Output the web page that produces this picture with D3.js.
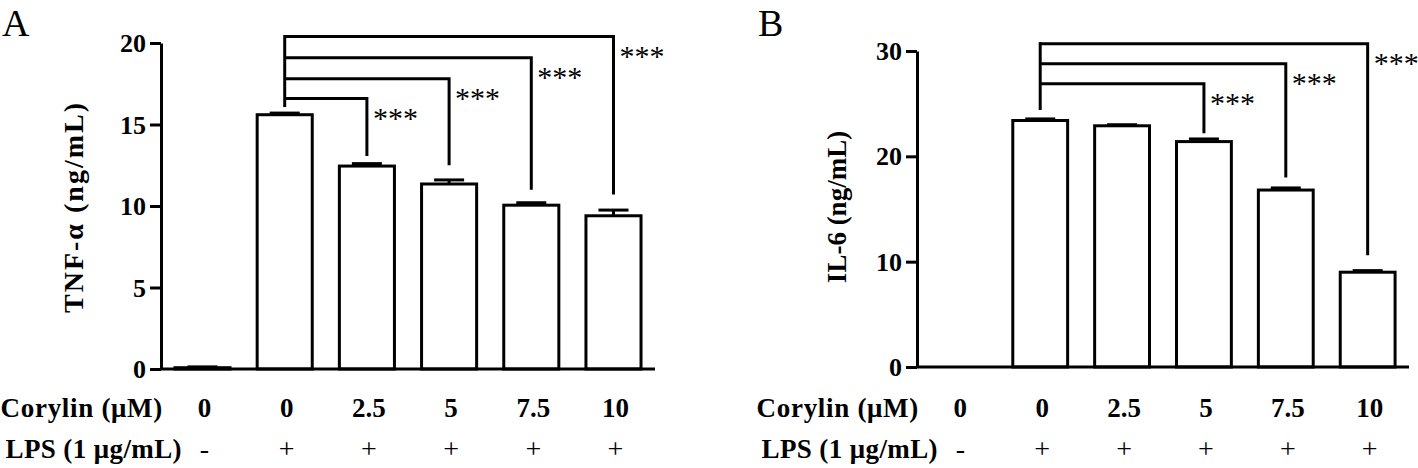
<!DOCTYPE html>
<html>
<head>
<meta charset="utf-8">
<script src="https://cdn.jsdelivr.net/npm/d3@7"></script>
<style>
  html, body { margin: 0; padding: 0; background: #fff; }
  svg { display: block; }
  text { font-family: "Liberation Serif", "Times New Roman", serif; fill: #000; }
</style>
</head>
<body>
<svg id="chart" width="1418" height="468"></svg>
<script>
// ---------- data ----------
const categories = ["c1", "c2", "c3", "c4", "c5", "c6"];
const corylinLabels = ["0", "0", "2.5", "5", "7.5", "10"];
const lpsLabels = ["-", "+", "+", "+", "+", "+"];

const tnfValues = [0.08, 15.6, 12.45, 11.35, 10.05, 9.4];
const tnfErrors = [0.05, 0.1, 0.15, 0.25, 0.15, 0.35];
const tnfTicks = [0, 5, 10, 15, 20];
// significance brackets: target bar index, bracket height, drop end (data units)
const tnfBracketTargets = [2, 3, 4, 5];
const tnfBracketLevels = [16.6, 17.8, 19.1, 20.4];
const tnfBracketDrops = [13.07, 12.5, 11.0, 10.7];
const tnfBracketBase = 16.07;

const il6Values = [0, 23.4, 22.9, 21.4, 16.8, 9.0];
const il6Errors = [0, 0.15, 0.1, 0.25, 0.2, 0.15];
const il6Ticks = [0, 10, 20, 30];
const il6BracketTargets = [3, 4, 5];
const il6BracketLevels = [26.9, 28.8, 30.7];
const il6BracketDrops = [22.2, 18.0, 10.6];
const il6BracketBase = 24.4;

const sigLabel = "***";

// ---------- drawing ----------
const svg = d3.select("#chart");
svg.append("rect").attr("width", 1418).attr("height", 468).attr("fill", "#fff");

function panel(cfg) {
  const g = svg.append("g");
  const x = d3.scaleBand().domain(categories).range([cfg.x0, cfg.x1])
    .paddingInner(0.33).paddingOuter(0.17);
  const y = d3.scaleLinear().domain([0, cfg.ymax]).range([cfg.y0, cfg.y1]);

  // panel letter
  g.append("text").attr("x", cfg.letterX).attr("y", 36)
    .attr("font-size", 38).text(cfg.letter);

  // bars
  g.selectAll("rect.bar").data(cfg.values).join("rect")
    .attr("class", "bar")
    .attr("x", (d, i) => x(categories[i]))
    .attr("y", d => y(d))
    .attr("width", x.bandwidth())
    .attr("height", d => y(0) - y(d))
    .attr("fill", "#fff").attr("stroke", "#000").attr("stroke-width", 3);

  // error bars (upper only)
  const eb = g.append("g").attr("stroke", "#000").attr("stroke-width", 3);
  cfg.values.forEach((v, i) => {
    const cx = x(categories[i]) + x.bandwidth() / 2;
    const e = cfg.errors[i];
    if (v <= 0) return;
    eb.append("line").attr("x1", cx).attr("x2", cx).attr("y1", y(v)).attr("y2", y(v + e));
    eb.append("line").attr("x1", cx - 15).attr("x2", cx + 15).attr("y1", y(v + e)).attr("y2", y(v + e));
  });

  // x axis
  const xa = g.append("g").attr("transform", `translate(0,${cfg.y0})`)
    .call(d3.axisBottom(x).tickSize(0).tickFormat(""));
  xa.select(".domain").attr("stroke-width", 3).attr("d", `M${cfg.x0},0H${cfg.x1}`);

  // y axis
  const ya = g.append("g").attr("transform", `translate(${cfg.x0},0)`)
    .call(d3.axisLeft(y).tickValues(cfg.ticks).tickSize(11).tickSizeOuter(0).tickPadding(4));
  ya.select(".domain").attr("stroke-width", 3);
  ya.selectAll(".tick line").attr("stroke-width", 3);
  ya.selectAll(".tick text")
    .attr("font-family", "Liberation Serif, Times New Roman, serif")
    .attr("font-size", 26).attr("font-weight", "bold").attr("dy", "0.33em");

  // y axis title
  g.append("text")
    .attr("transform", `translate(${cfg.titleX},${cfg.titleY}) rotate(-90)`)
    .attr("text-anchor", "middle").attr("font-size", cfg.titleSize).attr("font-weight", "bold")
    .attr("letter-spacing", cfg.titleSpacing)
    .text(cfg.title);

  // brackets
  const bg = g.append("g").attr("stroke", "#000").attr("stroke-width", 3).attr("fill", "none");
  const cx0 = x(categories[1]) + x.bandwidth() / 2;
  const topLevel = d3.max(cfg.bLevels);
  bg.append("line").attr("x1", cx0).attr("x2", cx0)
    .attr("y1", y(cfg.bBase)).attr("y2", y(topLevel) - 1.5);
  cfg.bTargets.forEach((t, k) => {
    const cx = x(categories[t]) + x.bandwidth() / 2;
    const ly = y(cfg.bLevels[k]);
    bg.append("path").attr("d", `M${cx0},${ly}H${cx}V${y(cfg.bDrops[k])}`);
    g.append("text").attr("x", cx + 6).attr("y", ly + 29.5)
      .attr("font-family", "Liberation Sans, Arial, sans-serif")
      .attr("font-size", 30).text(sigLabel);
  });

  // category rows
  g.append("text").attr("x", cfg.x0 + 2).attr("y", 417).attr("text-anchor", "end")
    .attr("font-size", 27).attr("font-weight", "bold").attr("letter-spacing", 0.7)
    .text("Corylin (μM)");
  g.append("text").attr("x", cfg.x0 + 21).attr("y", 458).attr("text-anchor", "end")
    .attr("font-size", 27).attr("font-weight", "bold").attr("letter-spacing", 0.4)
    .text("LPS (1 μg/mL)");
  g.selectAll("text.cor").data(corylinLabels).join("text").attr("class", "cor")
    .attr("x", (d, i) => x(categories[i]) + x.bandwidth() / 2 + 2)
    .attr("y", 417).attr("text-anchor", "middle")
    .attr("font-size", 27).attr("font-weight", "bold").text(d => d);
  g.selectAll("text.lps").data(lpsLabels).join("text").attr("class", "lps")
    .attr("x", (d, i) => x(categories[i]) + x.bandwidth() / 2 + 2)
    .attr("y", 458).attr("text-anchor", "middle")
    .attr("font-size", 28).text(d => d);
}

panel({
  letter: "A", letterX: 2, x0: 161, x1: 655, y0: 369, y1: 43, ymax: 20,
  values: tnfValues, errors: tnfErrors, ticks: tnfTicks,
  title: "TNF-α (ng/mL)", titleX: 83, titleY: 207, titleSize: 28, titleSpacing: 2,
  bTargets: tnfBracketTargets, bLevels: tnfBracketLevels, bDrops: tnfBracketDrops, bBase: tnfBracketBase
});
panel({
  letter: "B", letterX: 758, x0: 917, x1: 1409, y0: 367, y1: 51, ymax: 30,
  values: il6Values, errors: il6Errors, ticks: il6Ticks,
  title: "IL-6 (ng/mL)", titleX: 846, titleY: 207, titleSize: 27, titleSpacing: 0,
  bTargets: il6BracketTargets, bLevels: il6BracketLevels, bDrops: il6BracketDrops, bBase: il6BracketBase
});
</script>
</body>
</html>
